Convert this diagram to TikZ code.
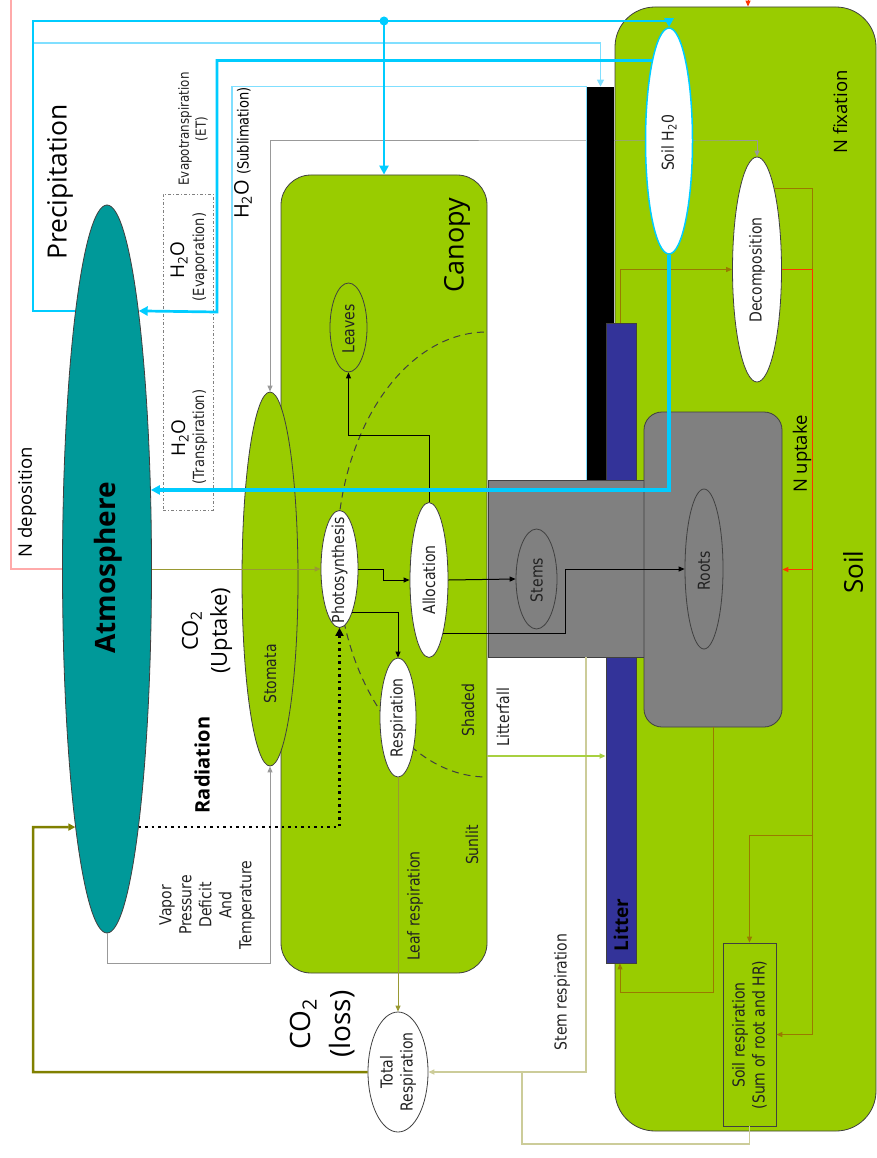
\documentclass[tikz,border=0pt]{standalone}
\usepackage{fontspec}
\setmainfont{Open Sans}
\newfontfamily\smallf[FakeStretch=0.85]{DejaVu Sans}
\usetikzlibrary{arrows.meta,shapes.geometric}
\pgfdeclarelayer{bg}
\pgfdeclarelayer{mid}
\pgfsetlayers{bg,mid,main}
\newcommand{\fs}[2]{\fontsize{#1}{#2}\selectfont}
\definecolor{leafgreen}{HTML}{99CC00}
\definecolor{atmteal}{HTML}{009999}
\definecolor{litterblue}{HTML}{333399}
\definecolor{cyanline}{HTML}{00CCFF}
\definecolor{cyanlight}{HTML}{80DFFF}
\definecolor{olivedark}{HTML}{808000}
\definecolor{olivemid}{HTML}{999933}
\definecolor{tanline}{HTML}{CCCC99}
\definecolor{brownline}{HTML}{997A00}
\definecolor{redline}{HTML}{FF3300}
\definecolor{pinkline}{HTML}{FFAAAA}
\definecolor{grayline}{HTML}{999999}
\definecolor{boxgray}{HTML}{808080}
\definecolor{lfgreen}{HTML}{A8D040}
\definecolor{outl}{HTML}{404040}
\definecolor{txtdark}{HTML}{222222}
\begin{document}
\begin{tikzpicture}[x=1pt,y=-1pt,
  >={Triangle[length=6pt,width=5pt]},
  bigtip/.style={-{Triangle[length=9pt,width=9pt]}},
  midtip/.style={-{Triangle[length=7pt,width=7pt]}},
  ell/.style={ellipse, draw=outl, line width=0.8pt, inner sep=0pt},
  box/.style={rectangle, draw=outl, line width=0.8pt, inner sep=0pt},
  sm/.style={font=\smallf\fs{#1}{20}, text=txtdark, rotate=90, inner sep=0pt, align=center},
  sm/.default=16.5,
  lbl/.style={rotate=90, inner sep=0pt, align=center},
  blueA/.style={draw=cyanline, line width=2.7pt},
  blueB/.style={draw=cyanlight, line width=1.5pt},
  blueC/.style={draw=cyanline, line width=4pt},
  grayl/.style={draw=grayline, line width=1pt},
  olivel/.style={draw=olivemid, line width=1pt},
  olivethick/.style={draw=olivedark, line width=2.5pt},
  tanl/.style={draw=tanline, line width=1.5pt},
  lfall/.style={draw=lfgreen, line width=1.5pt},
  brownl/.style={draw=brownline, line width=1pt},
  redl/.style={draw=redline, line width=1pt},
  pinkl/.style={draw=pinkline, line width=1.5pt},
  blk/.style={draw=black, line width=1pt},
]
\useasboundingbox (0,0) rectangle (877,1158);

% ---------- background boxes ----------
\begin{pgfonlayer}{bg}
\node[box, rounded corners=30pt, fill=leafgreen, minimum width=206pt, minimum height=798pt] (canopy) at (384,574) {};
\node[box, rounded corners=40pt, fill=leafgreen, minimum width=261pt, minimum height=1124pt] (soil) at (745.5,569) {};
\end{pgfonlayer}

% ---------- main shapes ----------
\node[ell, fill=atmteal, minimum width=89pt, minimum height=728pt] (atm) at (107,569) {};
\node[box, draw=none, fill=black, minimum width=27pt, minimum height=393pt] (blackbar) at (600.5,283.5) {};
\node[box, fill=litterblue, minimum width=30pt, minimum height=640pt] (litter) at (621,643) {};
\node[box, fill=boxgray, minimum width=156pt, minimum height=177pt] (stembox) at (566,568.5) {};
\node[box, fill=boxgray, rounded corners=18pt, minimum width=138pt, minimum height=315pt] (rootsbox) at (713,569.5) {};
\node[box, minimum width=53pt, minimum height=183pt] (soilresp) at (749.5,1034.5) {};
\node[box, draw=gray, dash pattern=on 3pt off 2pt on 1pt off 2pt, minimum width=50pt, minimum height=316pt] (evapbox) at (188,352) {};
\node[ell, fill=leafgreen, minimum width=56pt, minimum height=374pt] (stomata) at (270,579) {};
\node[ell, fill=leafgreen, minimum width=37pt, minimum height=89pt] (leaves) at (348.5,327.5) {};
\node[ell, fill=white, minimum width=37pt, minimum height=117pt] (photo) at (339.5,569) {};
\node[ell, fill=white, minimum width=38pt, minimum height=155pt] (alloc) at (429,580) {};
\node[ell, fill=white, minimum width=36pt, minimum height=119pt] (resp) at (398,717.5) {};
\node[ell, minimum width=41pt, minimum height=100pt] (stems) at (536.5,579) {};
\node[ell, minimum width=38pt, minimum height=160pt] (roots) at (704,569) {};
\node[ell, fill=white, draw=cyanline, line width=1.5pt, minimum width=47pt, minimum height=226pt] (soilh2o) at (669,141) {};
\node[ell, fill=white, minimum width=49pt, minimum height=225pt] (decomp) at (757,269.5) {};
\node[ell, fill=white, minimum width=60pt, minimum height=120pt] (totresp) at (398,1072) {};

\coordinate (ndep) at (11,0);
\coordinate (nfix) at (748,0);
\coordinate (pdot) at (384,21);

% ---------- lines under the shapes ----------
\begin{pgfonlayer}{mid}
\draw[grayl, <->] (stomata.north) |- (700,141) -| (decomp.north);
\begin{scope}
\clip (320,300) rectangle (487,800);
\draw[outl, line width=1pt, dash pattern=on 7pt off 5pt] (487,554.5) ellipse [x radius=150, y radius=222.5];
\end{scope}
\draw[pinkl] (atm.west) -| (ndep);
\end{pgfonlayer}

% ---------- connectors ----------
\draw[olivel, ->] (atm.east) -- (photo.west);
\draw[grayl, ->] (atm.south) |- (270,963) -- (stomata.south);
\draw[line width=2.5pt, dash pattern=on 2.5pt off 4pt, -{Triangle[length=8pt,width=8pt]}] (atm.277) -| (photo.south);
\draw[olivel, ->] (resp.south) -- (totresp.north);
\draw[olivethick, midtip] (totresp.west) -| (33,827) -- (atm.263);
\draw[tanl, ->] (stembox.south -| 586,0) |- (totresp.east);
\draw[tanl] (soilresp.south) |- (522,1144) -- (522,1072);
\draw[lfall, ->] (canopy.east |- 0,756) -- (litter.west |- 0,756);
\draw[blk, ->] (photo.east) -- (383,569) |- (alloc.west);
\draw[blk, ->] (photo.286) -| (resp.north);
\draw[blk, ->] (alloc.north) -- (429,435) -| (leaves.south);
\draw[blk, ->] (alloc.east) -- (stems.west);
\draw[blk, ->] (alloc.285) -| (565,569) -- (roots.west);

\draw[brownl, ->] (litter.north -| 620,0) |- (decomp.west);
\draw[brownl, ->] (decomp.78) -| (812,1034.5) -- (soilresp.east);
\draw[brownl, ->] (812,835) -| (soilresp.north);
\draw[brownl, ->] (rootsbox.south) |- (620,992) -- (litter.south -| 620,0);
\draw[redl, ->] (decomp.east) -| (812,569.5) -- (rootsbox.east);
\draw[redl, ->] (nfix) -- (nfix |- soil.north);

% ---------- water (blue) ----------
\draw[blueB] (blackbar.north west) -| (232,491);
\draw[blueB] (blackbar.north west) -- (blackbar.south west);
\draw[blueB, midtip] (33,43) -| (blackbar.north);
\draw[blueA, bigtip] (atm.97) -| (33,21) -| (soilh2o.north);
\draw[blueA, bigtip] (pdot) -- (canopy.north);
\fill[cyanline] (pdot) circle (4.5);
\draw[blueA, bigtip] (soilh2o.102) -| (217,312) -- (atm.83);
\draw[blueC, bigtip] (soilh2o.south) |- (atm.61);

% ---------- texts ----------
\node[lbl, font=\fs{26.5}{26.5}] (tprecip) at (60,182) {Precipitation};
\node[lbl, font=\bfseries\fs{28}{28}] (tatm) at (108,568) {Atmosphere};
\node[lbl, font=\fs{27}{27}] (tcanopy) at (457,245) {Canopy};
\node[lbl, font=\fs{26}{26}] (tsoil) at (853,572) {Soil};
\node[lbl, font=\fs{18.5}{18.5}] (tnfix) at (840,112) {N fixation};
\node[lbl, font=\fs{18.5}{18.5}] (tnup) at (802,454) {N uptake};
\node[lbl, font=\fs{18.5}{18.5}] (tndep) at (27,502) {N deposition};
\node[lbl, font=\fs{22}{29}] (tco2up) at (207,631) {CO\textsubscript{2}\\(Uptake)};
\node[lbl, font=\fs{28}{40}] (tco2loss) at (323,1024) {CO\textsubscript{2}\\(loss)};
\node[lbl, font=\bfseries\fs{20}{20}] (trad) at (202,765) {Radiation};
\node[lbl, font=\bfseries\fs{19}{19}] (tlitter) at (621,925) {Litter};

\node[sm] (tsoilh2o) at (669,143) {Soil H\textsubscript{2}0};
\node[sm] (tdecomp) at (757,270) {Decomposition};
\node[sm] (tstomata) at (270,674) {Stomata};
\node[sm] (tphoto) at (339.5,570) {Photosynthesis};
\node[sm] (talloc) at (429,580) {Allocation};
\node[sm] (tresp) at (398,718) {Respiration};
\node[sm] (tleaves) at (348.5,329) {Leaves};
\node[sm] (tstems) at (536.5,580) {Stems};
\node[sm] (troots) at (704,571) {Roots};
\node[sm] (ttotresp) at (398,1072) {Total\\Respiration};
\node[sm] (tleafresp) at (415,906) {Leaf respiration};
\node[sm] (tstemresp) at (562,992) {Stem respiration};
\node[sm] (tsunlit) at (472,845) {Sunlit};
\node[sm] (tshaded) at (468,710) {Shaded};
\node[sm] (tlitterfall) at (503,717) {Litterfall};
\node[sm] (tsoilrespt) at (749.5,1035) {Soil respiration\\(Sum of root and HR)};
\node[sm] (tvpd) at (207,905) {Vapor\\Pressure\\Deficit\\And\\Temperature};
\node[sm, font=\smallf\fs{14}{17}] (tet) at (193,129) {Evapotranspiration\\(ET)};
\node[lbl, font=\fs{20}{20}] (tsubl) at (243,153) {H\textsubscript{2}O {\smallf\fs{15.3}{15.3}(Sublimation)}};
\node[lbl, font=\fs{19}{19}] (th2oe) at (179,260) {H\textsubscript{2}O};
\node[sm=15.3] (tevap) at (200,257) {(Evaporation)};
\node[lbl, font=\fs{19}{19}] (th2ot) at (180,438) {H\textsubscript{2}O};
\node[sm=15.3] (ttransp) at (200,437) {(Transpiration)};
\end{tikzpicture}
\end{document}
